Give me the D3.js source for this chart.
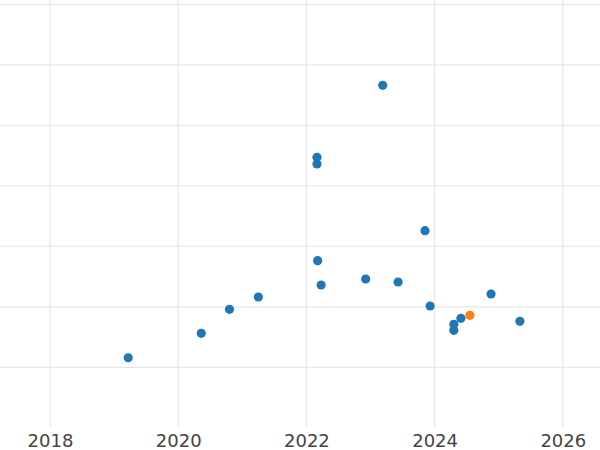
<!DOCTYPE html>
<html>
<head>
<meta charset="utf-8">
<script src="https://cdn.jsdelivr.net/npm/d3@7"></script>
<style>
  html, body { margin: 0; padding: 0; background: #fff; }
  svg { display: block; }
</style>
</head>
<body>
<div id="chart"></div>
<script>
// Data (x = decimal year, y = value)
const years = [2019.22, 2020.36, 2020.80, 2021.25, 2022.165, 2022.165, 2023.19, 2022.175, 2022.23, 2022.925, 2023.43, 2023.85, 2023.93, 2024.30, 2024.30, 2024.41, 2024.55, 2024.88, 2025.33];
const values = [1.6, 5.64, 9.6, 11.64, 34.73, 33.62, 46.63, 17.64, 13.62, 14.61, 14.12, 22.6, 10.15, 7.12, 6.13, 8.12, 8.61, 12.13, 7.62];
const highlight = [false, false, false, false, false, false, false, false, false, false, false, false, false, false, false, false, true, false, false];
const xTicks = [2018, 2020, 2022, 2024, 2026];
const yTicks = [0, 10, 20, 30, 40, 50, 60];

const W = 600, H = 450;
const plotBottom = 427;

const svg = d3.select("#chart").append("svg")
  .attr("width", W).attr("height", H);

const x = d3.scaleLinear().domain([2017.22, 2026.58]).range([0, W]);
const y = d3.scaleLinear().domain([-9.85, 60.73]).range([plotBottom, 0]);

// Grid
const grid = svg.append("g").attr("stroke", "#e8e8e8").attr("stroke-width", 1.3);
grid.selectAll("line.v").data(xTicks).enter().append("line")
  .attr("class", "v")
  .attr("x1", d => x(d)).attr("x2", d => x(d))
  .attr("y1", 0).attr("y2", plotBottom);
grid.selectAll("line.h").data(yTicks).enter().append("line")
  .attr("class", "h")
  .attr("x1", 0).attr("x2", W)
  .attr("y1", d => y(d)).attr("y2", d => y(d));

// X axis labels
const xAxis = d3.axisBottom(x).tickValues(xTicks).tickFormat(d3.format("d")).tickSize(0).tickPadding(0);
const ax = svg.append("g").attr("transform", `translate(0,${plotBottom})`).call(xAxis);
ax.select(".domain").remove();
ax.selectAll("text")
  .attr("dy", null)
  .attr("y", 20)
  .attr("fill", "#444")
  .style("font-family", "DejaVu Sans, sans-serif")
  .style("font-size", "18px");

// Points
const pts = years.map((d, i) => ({ x: d, y: values[i], h: highlight[i] }));
svg.append("g").selectAll("circle").data(pts).enter().append("circle")
  .attr("cx", d => x(d.x))
  .attr("cy", d => y(d.y))
  .attr("r", 4.6)
  .attr("fill", d => d.h ? "#ff7f0e" : "#1f77b4");
</script>
</body>
</html>
